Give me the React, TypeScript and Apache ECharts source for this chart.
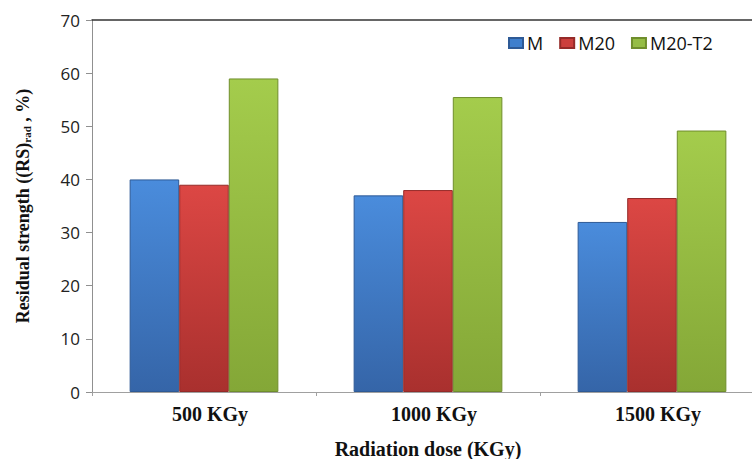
import React, { useEffect, useRef } from "react";
import * as echarts from "echarts";

const categories = ["500 KGy", "1000 KGy", "1500 KGy"];
const seriesNames = ["M", "M20", "M20-T2"];
const valuesM = [40, 37, 32];
const valuesM20 = [39, 38, 36.5];
const valuesM20T2 = [59, 55.5, 49.2];
const yTicks = { min: 0, max: 70, interval: 10 };

const palette = [
  { top: "#4a8cdc", bottom: "#3565a8", border: "#2e5a96", legend: "#3f7fcd" },
  { top: "#dc4744", bottom: "#a9302e", border: "#952a28", legend: "#cc3f3c" },
  { top: "#a4cc4c", bottom: "#84a737", border: "#6f8e2c", legend: "#95bd45" },
];

export default function App() {
  const ref = useRef<HTMLDivElement>(null);
  useEffect(() => {
    document.body.style.margin = "0";
    if (!ref.current) return;
    const chart = echarts.init(ref.current, null, { renderer: "svg" });
    const data = [valuesM, valuesM20, valuesM20T2];
    chart.setOption({
      animation: false,
      grid: { left: 92, top: 20, right: -12, bottom: 67, containLabel: false, outerBoundsMode: "none" },
      legend: {
        data: seriesNames.map((n, i) => ({ name: n, itemStyle: { color: palette[i].legend } })),
        left: 508,
        top: 34,
        padding: 0,
        itemWidth: 14,
        itemHeight: 10,
        itemGap: 16,
        icon: "rect",
        textStyle: { fontFamily: "Open Sans", fontSize: 18, color: "#111", padding: [0, 0, 0, -1] },
      },
      xAxis: [
        {
          type: "category",
          data: categories,
          position: "bottom",
          axisLine: { lineStyle: { color: "#a0a0a0", width: 1 } },
          axisTick: { show: true, alignWithLabel: false, length: 4, lineStyle: { color: "#a0a0a0" } },
          axisLabel: {
            margin: 12,
            padding: [0, 0, 0, 12],
            fontFamily: "Liberation Serif",
            fontWeight: "bold",
            fontSize: 20,
            color: "#111",
          },
          name: "Radiation dose (KGy)",
          nameLocation: "middle",
          nameGap: 47,
          nameTextStyle: { fontFamily: "Liberation Serif", fontWeight: "bold", fontSize: 20, color: "#111" },
        },
        {
          type: "category",
          data: categories,
          position: "top",
          axisLine: { lineStyle: { color: "#333", width: 1.5 } },
          axisTick: { show: false },
          axisLabel: { show: false },
        },
      ],
      yAxis: {
        type: "value",
        min: yTicks.min,
        max: yTicks.max,
        interval: yTicks.interval,
        axisLine: { show: true, lineStyle: { color: "#909090" } },
        axisTick: { show: true, length: 6, lineStyle: { color: "#909090" } },
        splitLine: { show: false },
        axisLabel: { margin: 12, fontFamily: "Open Sans", fontSize: 17, color: "#222" },
        name: "Residual strength ((RS){sub|rad} , %)",
        nameLocation: "middle",
        nameRotate: 90,
        nameGap: 60,
        nameTextStyle: {
          fontFamily: "Liberation Serif",
          fontWeight: "bold",
          fontSize: 18,
          color: "#111",
          rich: {
            sub: {
              fontFamily: "Liberation Serif",
              fontWeight: "bold",
              fontSize: 11,
              color: "#111",
              verticalAlign: "bottom",
              padding: [6, 0, 0, 0],
            },
          },
        },
      },
      series: seriesNames.map((n, i) => ({
        name: n,
        type: "bar",
        data: data[i],
        barGap: "0%",
        barCategoryGap: "33.6%",
        itemStyle: {
          color: new echarts.graphic.LinearGradient(0, 0, 0, 1, [
            { offset: 0, color: palette[i].top },
            { offset: 1, color: palette[i].bottom },
          ]),
          borderColor: palette[i].border,
          borderWidth: 1,
        },
      })),
    });
    return () => chart.dispose();
  }, []);
  return <div ref={ref} style={{ width: 752, height: 459 }} />;
}
